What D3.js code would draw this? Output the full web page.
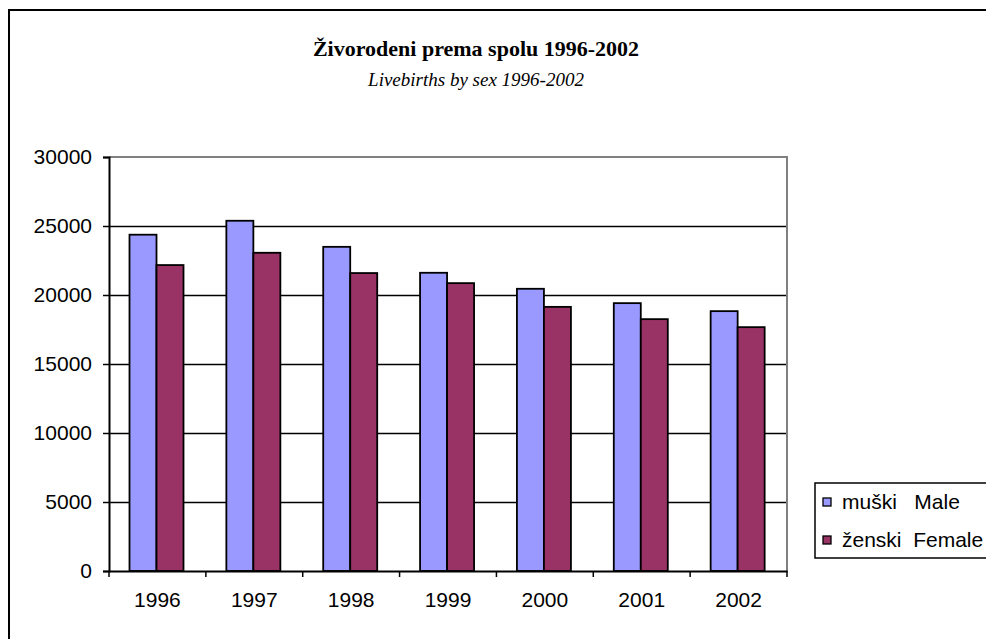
<!DOCTYPE html>
<html>
<head>
<meta charset="utf-8">
<script src="https://cdn.jsdelivr.net/npm/d3@7"></script>
<style>
  body { margin: 0; background: #fff; }
  svg { display: block; }
  .lbl { font-family: "Liberation Sans", Arial, sans-serif; font-size: 21px; fill: #000; }
</style>
</head>
<body>
<div id="chart"></div>
<script>
// data
var years = ["1996", "1997", "1998", "1999", "2000", "2001", "2002"];
var seriesNames = ["muški   Male", "ženski  Female"];
var male = [24370, 25380, 23490, 21610, 20450, 19410, 18830];
var female = [22170, 23060, 21590, 20860, 19140, 18250, 17670];
var yTicks = [0, 5000, 10000, 15000, 20000, 25000, 30000];
var colors = ["#9999ff", "#993366"];

var margin = {top: 157, left: 109},
    width = 678,
    height = 414;

var svg = d3.select("#chart").append("svg")
    .attr("width", 986)
    .attr("height", 639);

// outer chart frame
svg.append("rect")
    .attr("x", 9).attr("y", 10)
    .attr("width", 1100).attr("height", 800)
    .attr("fill", "#fff")
    .attr("stroke", "#000")
    .attr("stroke-width", 2);

// titles
svg.append("text")
    .attr("x", 476).attr("y", 56)
    .attr("text-anchor", "middle")
    .style("font-family", "'Liberation Serif', 'Times New Roman', serif")
    .style("font-size", "22px")
    .style("font-weight", "bold")
    .text("Živorodeni prema spolu 1996-2002");
svg.append("text")
    .attr("x", 476).attr("y", 86)
    .attr("text-anchor", "middle")
    .style("font-family", "'Liberation Serif', 'Times New Roman', serif")
    .style("font-size", "19px")
    .style("font-style", "italic")
    .text("Livebirths by sex 1996-2002");

var g = svg.append("g")
    .attr("transform", "translate(" + margin.left + "," + margin.top + ")");

var x0 = d3.scaleBand().domain(years).range([0, width]).padding(0);
var x1 = d3.scaleBand().domain([0, 1]).range([20.5, 74.5]).padding(0);
var y = d3.scaleLinear().domain([0, 30000]).range([height, 0]);

// gridlines
g.append("g")
    .call(d3.axisLeft(y).tickValues(yTicks.slice(1, -1)).tickSize(-width).tickFormat(""))
    .call(function(s) { s.select(".domain").remove(); })
    .selectAll("line").attr("stroke", "#000").attr("stroke-width", 1.6);

// plot border (top/right grey)
g.append("path")
    .attr("d", "M0," + y(30000) + "H" + width + "V" + height)
    .attr("fill", "none")
    .attr("stroke", "#808080")
    .attr("stroke-width", 2);

// bars
var groups = g.selectAll(".yr")
    .data(years)
    .enter().append("g")
    .attr("transform", function(d) { return "translate(" + x0(d) + ",0)"; });

groups.selectAll("rect")
    .data(function(d, i) { return [male[i], female[i]]; })
    .enter().append("rect")
    .attr("x", function(d, j) { return x1(j); })
    .attr("width", x1.bandwidth())
    .attr("y", function(d) { return y(d); })
    .attr("height", function(d) { return height - y(d); })
    .attr("fill", function(d, j) { return colors[j]; })
    .attr("stroke", "#000")
    .attr("stroke-width", 1.8);

// y axis
var yAxis = g.append("g")
    .call(d3.axisLeft(y).tickValues(yTicks).tickSize(6).tickPadding(11).tickFormat(d3.format("d")));
yAxis.select(".domain").attr("stroke", "#000").attr("stroke-width", 2);
yAxis.selectAll("line").attr("stroke", "#000").attr("stroke-width", 1.5);
yAxis.selectAll("text").attr("class", "lbl").attr("font-family", null).attr("font-size", null);

// x axis (labels at band centre, ticks at band edges)
var xAxis = g.append("g")
    .attr("transform", "translate(0," + height + ")")
    .call(d3.axisBottom(x0).tickSize(0).tickPadding(21));
xAxis.select(".domain").attr("stroke", "#000").attr("stroke-width", 2);
xAxis.selectAll("text").attr("class", "lbl").attr("font-family", null).attr("font-size", null);

var edges = years.map(function(d) { return x0(d); }).concat([width]);
xAxis.selectAll(".edge")
    .data(edges)
    .enter().append("line")
    .attr("x1", function(d) { return d; })
    .attr("x2", function(d) { return d; })
    .attr("y1", 0).attr("y2", 6)
    .attr("stroke", "#000")
    .attr("stroke-width", 1.5);

// legend
var legend = svg.append("g").attr("transform", "translate(815,483)");
legend.append("rect")
    .attr("width", 200).attr("height", 75)
    .attr("fill", "#fff")
    .attr("stroke", "#000")
    .attr("stroke-width", 1.5);

var item = legend.selectAll(".item")
    .data(seriesNames)
    .enter().append("g")
    .attr("transform", function(d, i) { return "translate(0," + (19 + i * 38) + ")"; });
item.append("rect")
    .attr("x", 8).attr("y", -4)
    .attr("width", 8).attr("height", 8)
    .attr("fill", function(d, i) { return colors[i]; })
    .attr("stroke", "#000")
    .attr("stroke-width", 1.3);
item.append("text")
    .attr("class", "lbl")
    .attr("x", 27).attr("y", 7)
    .style("white-space", "pre")
    .text(function(d) { return d; });
</script>
</body>
</html>
